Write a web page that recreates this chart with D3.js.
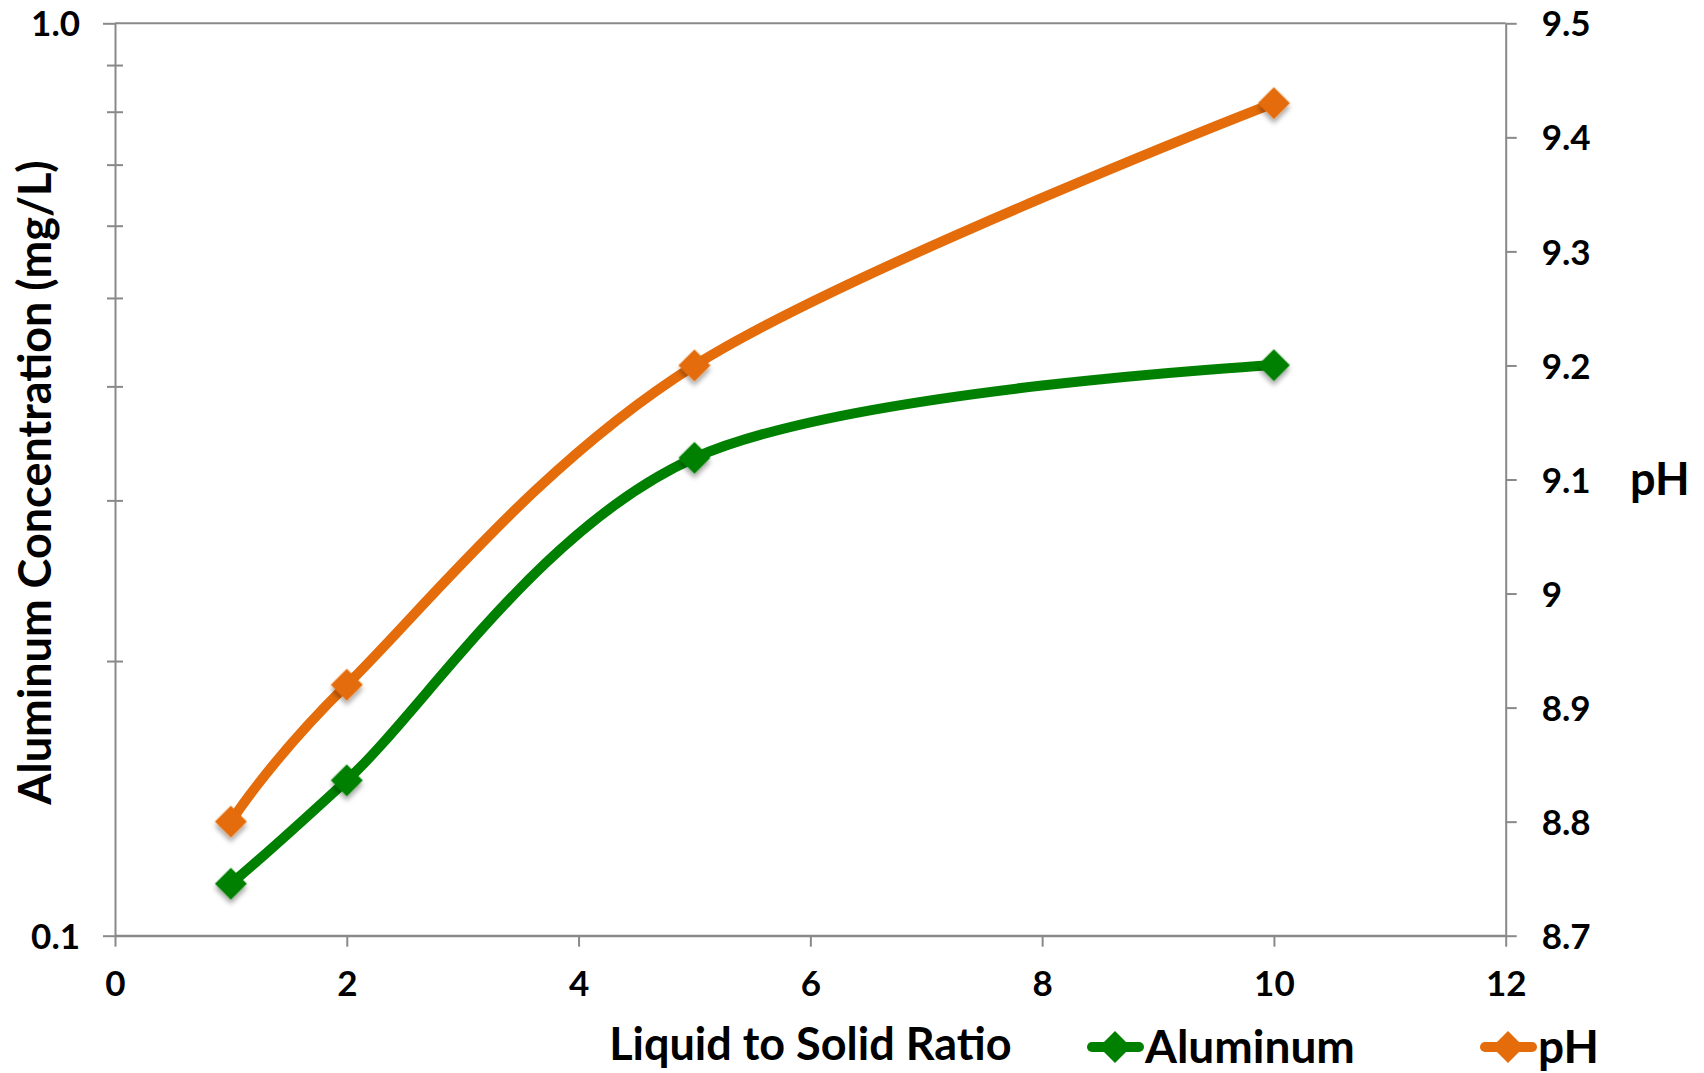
<!DOCTYPE html>
<html>
<head>
<meta charset="utf-8">
<script src="https://cdn.jsdelivr.net/npm/d3@7/dist/d3.min.js"></script>
<style>
  html, body { margin: 0; padding: 0; background: #fff; }
  svg { display: block; }
  text { font-family: Lato, "Open Sans", sans-serif; font-weight: 700; fill: #000; }
</style>
</head>
<body>
<svg id="chart" width="1704" height="1073"></svg>
<script>
// Leaching data: liquid-to-solid ratio vs. aluminum concentration and pH
const ratios = [1, 2, 5, 10];
const aluminum = [0.114, 0.148, 0.334, 0.422];   // mg/L
const ph = [8.80, 8.92, 9.20, 9.43];

const xTicks = [0, 2, 4, 6, 8, 10, 12];
const alMajorTicks = [0.1, 1.0];
const alMajorLabels = ["0.1", "1.0"];
const alMinorTicks = [0.2, 0.3, 0.4, 0.5, 0.6, 0.7, 0.8, 0.9];
const phTicks = [8.7, 8.8, 8.9, 9.0, 9.1, 9.2, 9.3, 9.4, 9.5];
const phTickLabels = ["8.7", "8.8", "8.9", "9", "9.1", "9.2", "9.3", "9.4", "9.5"];

const colors = { aluminum: "#008000", ph: "#E46C0A", axis: "#898989" };

const svg = d3.select("#chart");
const plot = { left: 115, right: 1505.7, top: 23.3, bottom: 935.7 };
const tickFont = 35, titleFont = 45;

const x = d3.scaleLinear().domain([0, 12]).range([plot.left, plot.right]);
const yAl = d3.scaleLog().domain([0.1, 1]).range([plot.bottom, plot.top]);
const yPh = d3.scaleLinear().domain([8.7, 9.5]).range([plot.bottom, plot.top]);

// marker shadow
const defs = svg.append("defs");
const f = defs.append("filter").attr("id", "shadow")
  .attr("x", "-50%").attr("y", "-50%").attr("width", "200%").attr("height", "200%");
f.append("feDropShadow").attr("dx", 3).attr("dy", 3).attr("stdDeviation", 2.5)
  .attr("flood-color", "#000").attr("flood-opacity", 0.35);

// major gridlines of the log axis
svg.append("g").selectAll("line").data(alMajorTicks).join("line")
  .attr("x1", plot.left).attr("x2", plot.right)
  .attr("y1", d => yAl(d)).attr("y2", d => yAl(d))
  .attr("stroke", colors.axis).attr("stroke-width", 2);

function styleAxis(g) {
  g.selectAll(".domain").attr("stroke", colors.axis).attr("stroke-width", 2);
  g.selectAll(".tick line").attr("stroke", colors.axis).attr("stroke-width", 2);
  g.selectAll("text").attr("font-size", tickFont).attr("font-family", null).attr("fill", "#000");
}

// x axis
const gx = svg.append("g").attr("transform", `translate(0,${plot.bottom})`)
  .call(d3.axisBottom(x).tickValues(xTicks).tickSize(11).tickSizeOuter(0).tickFormat(d3.format("d")));
styleAxis(gx);
gx.selectAll("text").attr("y", 60.5).attr("dy", 0);

// left log axis, major ticks
const gl = svg.append("g").attr("transform", `translate(${plot.left},0)`)
  .call(d3.axisLeft(yAl).tickValues(alMajorTicks).tickSize(12).tickSizeOuter(0)
    .tickFormat((d, i) => alMajorLabels[i]));
styleAxis(gl);
gl.selectAll("text").attr("x", -35).attr("dy", "0.36em");

// left log axis, minor ticks crossing the axis line
const gm = svg.append("g").attr("transform", `translate(${plot.left + 8},0)`)
  .call(d3.axisLeft(yAl).tickValues(alMinorTicks).tickSize(16).tickFormat(""));
gm.select(".domain").remove();
styleAxis(gm);

// right pH axis
const gr = svg.append("g").attr("transform", `translate(${plot.right},0)`)
  .call(d3.axisRight(yPh).tickValues(phTicks).tickSize(11).tickSizeOuter(0)
    .tickFormat((d, i) => phTickLabels[i]));
styleAxis(gr);
gr.selectAll("text").attr("x", 36).attr("dy", "0.36em");

// axis titles
svg.append("text").attr("x", (plot.left + plot.right) / 2).attr("y", 1060)
  .attr("text-anchor", "middle").attr("font-size", titleFont).text("Liquid to Solid Ratio");
svg.append("text").attr("transform", `translate(51,${(plot.top + plot.bottom) / 2 + 3}) rotate(-90)`)
  .attr("text-anchor", "middle").attr("font-size", titleFont).text("Aluminum Concentration (mg/L)");
svg.append("text").attr("x", 1630).attr("y", 495)
  .attr("font-size", titleFont).text("pH");

// series
const series = [
  { name: "Aluminum", values: aluminum, y: yAl, color: colors.aluminum },
  { name: "pH", values: ph, y: yPh, color: colors.ph }
];

const diamond = d3.symbol(d3.symbolSquare, 512)();

series.forEach(s => {
  const pts = ratios.map((r, i) => [x(r), s.y(s.values[i])]);
  svg.append("path")
    .attr("d", d3.line().curve(d3.curveCardinal.tension(0))(pts))
    .attr("fill", "none").attr("stroke", s.color).attr("stroke-width", 10)
    .attr("stroke-linejoin", "round");
  svg.append("g").selectAll("path").data(pts).join("path")
    .attr("d", diamond)
    .attr("transform", d => `translate(${d[0]},${d[1]}) rotate(45)`)
    .attr("fill", s.color)
    .attr("filter", "url(#shadow)");
});

// legend
const legend = [
  { name: "Aluminum", color: colors.aluminum, x0: 1087 },
  { name: "pH", color: colors.ph, x0: 1480 }
];
const legendY = 1047;
legend.forEach(l => {
  svg.append("line").attr("x1", l.x0 + 5).attr("x2", l.x0 + 52)
    .attr("y1", legendY).attr("y2", legendY)
    .attr("stroke", l.color).attr("stroke-width", 10).attr("stroke-linecap", "round");
  svg.append("path").attr("d", diamond)
    .attr("transform", `translate(${l.x0 + 28},${legendY}) rotate(45)`)
    .attr("fill", l.color);
  svg.append("text").attr("x", l.x0 + 58).attr("y", 1063)
    .attr("font-size", titleFont + 1).text(l.name);
});
</script>
</body>
</html>
